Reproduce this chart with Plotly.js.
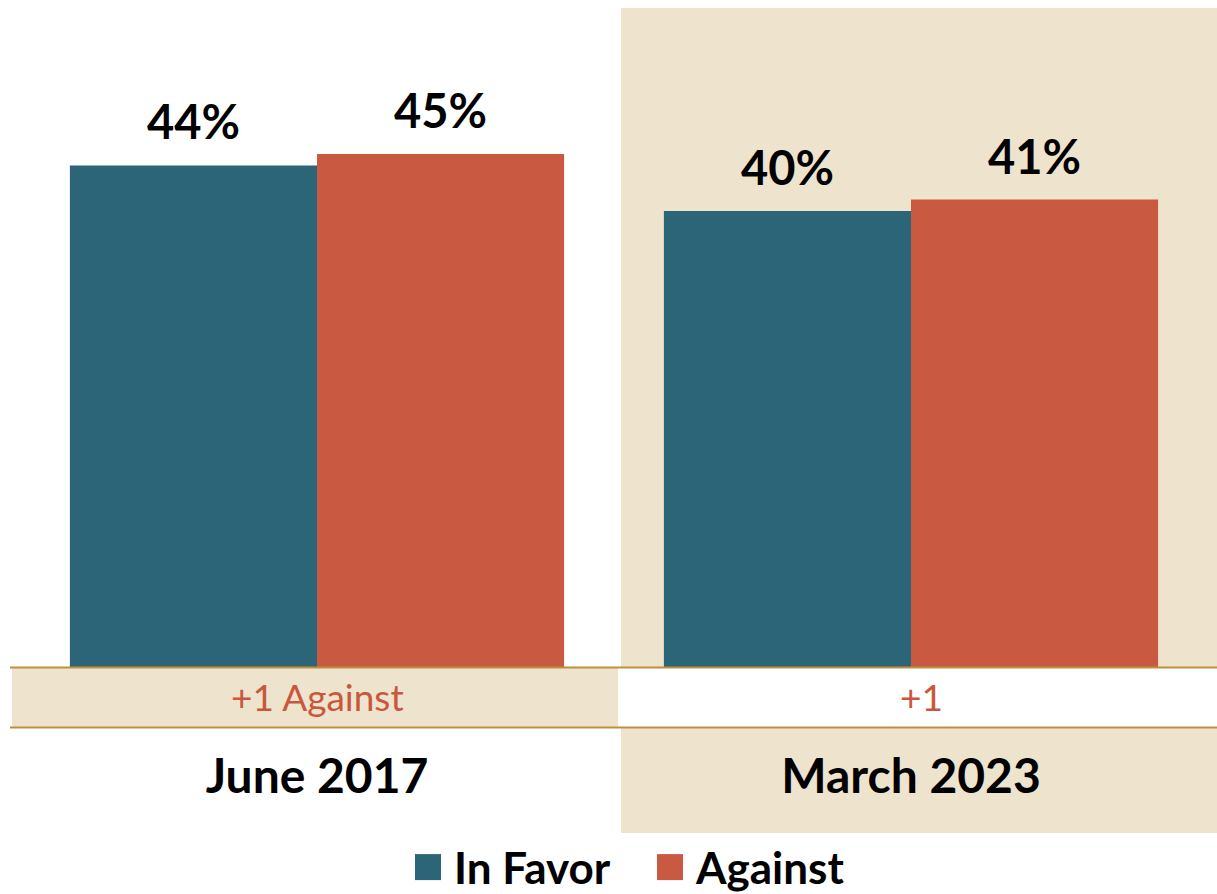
<!DOCTYPE html>
<html>
<head>
<meta charset="utf-8">
<script src="https://cdn.plot.ly/plotly-3.0.1.min.js"></script>
<style>
  html, body { margin: 0; padding: 0; background: #ffffff; }
  #chart { width: 1217px; height: 894px; }
</style>
</head>
<body>
<div id="chart"></div>
<script>
// ---- Data ----
const categories = ['June 2017', 'March 2023'];
const inFavor = [44, 40];
const against = [45, 41];
const diffLabels = ['+1 Against', '+1'];
const seriesNames = ['In Favor', 'Against'];

// ---- Styles ----
const TEAL = '#2B6577';
const ORANGE = '#C95A41';
const BEIGE = '#EEE3CD';
const GOLD = '#BF8F3E';
const FONT = 'Lato, "Open Sans", sans-serif';
const BARGAP = 0.168;

// chart geometry helpers (pixel -> paper)
const W = 1217, H = 894;
const M = {l: 20, r: 9, t: 0, b: 227};
const PW = W - M.l - M.r, PH = H - M.t - M.b;
const px = x => (x - M.l) / PW;
const py = y => (H - M.b - y) / PH;

const traces = [
  {type: 'bar', name: seriesNames[0], x: categories, y: inFavor,
   marker: {color: TEAL}, hoverinfo: 'skip'},
  {type: 'bar', name: seriesNames[1], x: categories, y: against,
   marker: {color: ORANGE}, hoverinfo: 'skip'}
];

const half = (1 - BARGAP) / 4;
const annotations = [];
categories.forEach((c, i) => {
  annotations.push({x: i - half, y: inFavor[i], xref: 'x', yref: 'y',
    text: inFavor[i] + '%', showarrow: false, yanchor: 'bottom', yshift: 14,
    font: {family: FONT, size: 47, color: '#000', weight: 700}});
  annotations.push({x: i + half, y: against[i], xref: 'x', yref: 'y',
    text: against[i] + '%', showarrow: false, yanchor: 'bottom', yshift: 14,
    font: {family: FONT, size: 47, color: '#000', weight: 700}});
  annotations.push({x: i, y: py(696), xref: 'x', yref: 'paper',
    xshift: i === 1 ? 10 : 0,
    text: diffLabels[i], showarrow: false, yanchor: 'middle',
    font: {family: FONT, size: 37, color: '#C8573E'}});
});

const shapes = [
  // big beige panel behind March 2023
  {type: 'rect', xref: 'paper', yref: 'paper', layer: 'below',
   x0: px(621), x1: px(1220), y0: py(833), y1: py(8),
   fillcolor: BEIGE, line: {width: 0}},
  // beige difference band under June 2017
  {type: 'rect', xref: 'paper', yref: 'paper', layer: 'below',
   x0: px(12), x1: px(618), y0: py(727), y1: py(668),
   fillcolor: BEIGE, line: {width: 0}},
  // white difference band under March 2023
  {type: 'rect', xref: 'paper', yref: 'paper', layer: 'below',
   x0: px(618), x1: px(1220), y0: py(727), y1: py(668),
   fillcolor: '#ffffff', line: {width: 0}},
  // gold rules
  {type: 'line', xref: 'paper', yref: 'paper', layer: 'above',
   x0: px(10), x1: px(1220), y0: py(667.5), y1: py(667.5),
   line: {color: GOLD, width: 2}},
  {type: 'line', xref: 'paper', yref: 'paper', layer: 'above',
   x0: px(10), x1: px(1220), y0: py(727.5), y1: py(727.5),
   line: {color: GOLD, width: 2}}
];

const layout = {
  width: W, height: H,
  margin: Object.assign({autoexpand: false}, M),
  paper_bgcolor: '#ffffff',
  plot_bgcolor: 'rgba(0,0,0,0)',
  barmode: 'group',
  bargap: BARGAP,
  bargroupgap: 0,
  showlegend: true,
  legend: {orientation: 'h', x: (414) / W, xref: 'container', xanchor: 'left',
    y: (H - 832) / H, yref: 'container', yanchor: 'top',
    font: {family: FONT, size: 44, color: '#000', weight: 700},
    entrywidth: 197, entrywidthmode: 'pixels', bgcolor: 'rgba(0,0,0,0)'},
  xaxis: {type: 'category', range: [-0.5, 1.5], showgrid: false, zeroline: false,
    showline: false, ticks: '', ticklabelstandoff: 77, automargin: false,
    tickfont: {family: FONT, size: 48, color: '#000', weight: 700}, fixedrange: true},
  yaxis: {range: [0, PH / 11.4], visible: false, showgrid: false, zeroline: false, fixedrange: true},
  shapes: shapes,
  annotations: annotations
};

Plotly.newPlot('chart', traces, layout, {displayModeBar: false, staticPlot: true}).then(gd => {
  // enlarge legend swatches to match the reference square markers
  gd.querySelectorAll('.legend .legendpoints path').forEach(p => {
    p.setAttribute('d', 'M7,13H-19V-13H7Z');
  });
});
</script>
</body>
</html>
